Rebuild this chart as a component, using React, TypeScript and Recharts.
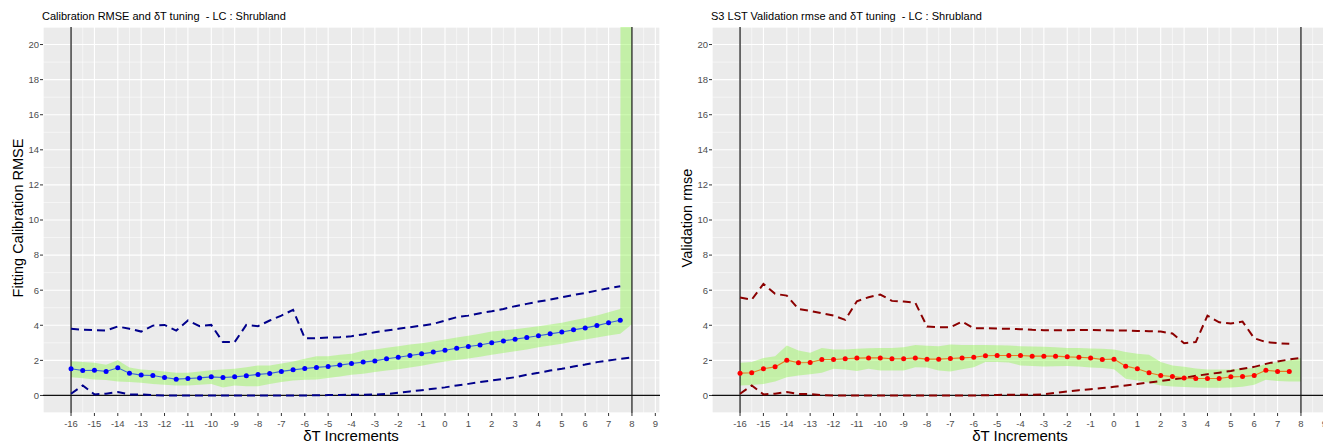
import { ComposedChart, Line, Area, XAxis, YAxis, CartesianGrid, ReferenceLine } from "recharts";

// dT increments (x positions of every sample)
const deltaT = [
  -16, -15.5, -15, -14.5, -14, -13.5, -13, -12.5, -12, -11.5, -11, -10.5, -10, -9.5, -9, -8.5,
  -8, -7.5, -7, -6.5, -6, -5.5, -5, -4.5, -4, -3.5, -3, -2.5, -2, -1.5, -1, -0.5,
  0, 0.5, 1, 1.5, 2, 2.5, 3, 3.5, 4, 4.5, 5, 5.5, 6, 6.5, 7, 7.5, 8,
];

const xTicks = [-16, -15, -14, -13, -12, -11, -10, -9, -8, -7, -6, -5, -4, -3, -2, -1, 0, 1, 2, 3, 4, 5, 6, 7, 8, 9];
const xMinorTicks = [
  -16.5, -15.5, -14.5, -13.5, -12.5, -11.5, -10.5, -9.5, -8.5, -7.5, -6.5, -5.5, -4.5, -3.5, -2.5, -1.5,
  -0.5, 0.5, 1.5, 2.5, 3.5, 4.5, 5.5, 6.5, 7.5, 8.5,
];
const yTicks = [0, 2, 4, 6, 8, 10, 12, 14, 16, 18, 20];
const yMinorTicks = [1, 3, 5, 7, 9, 11, 13, 15, 17, 19];

// calibration panel
const calMean = [
  1.52, 1.42, 1.44, 1.37, 1.58, 1.27, 1.16, 1.14, 1.02, 0.93, 0.97, 1.0, 1.06, 1.02, 1.06, 1.12,
  1.2, 1.25, 1.37, 1.46, 1.54, 1.6, 1.65, 1.73, 1.82, 1.9, 1.97, 2.09, 2.18, 2.28, 2.37, 2.47,
  2.58, 2.69, 2.79, 2.88, 3.0, 3.11, 3.21, 3.3, 3.4, 3.51, 3.62, 3.74, 3.85, 3.98, 4.14, 4.29, null,
];
const calLow = [
  1.04, 0.98, 0.91, 0.88, 0.8, 0.76, 0.72, 0.66, 0.61, 0.57, 0.57, 0.61, 0.65, 0.46, 0.57, 0.53,
  0.53, 0.66, 0.76, 0.85, 0.89, 0.91, 0.99, 1.08, 1.18, 1.24, 1.33, 1.42, 1.5, 1.6, 1.7, 1.82,
  1.94, 2.02, 2.1, 2.2, 2.32, 2.42, 2.52, 2.62, 2.75, 2.85, 2.95, 3.07, 3.19, 3.3, 3.42, 3.51, 4.06,
];
const calHigh = [
  1.95, 1.9, 1.86, 1.75, 2.0, 1.6, 1.48, 1.43, 1.37, 1.29, 1.29, 1.37, 1.43, 1.48, 1.52, 1.61,
  1.71, 1.71, 1.82, 1.94, 2.09, 2.24, 2.24, 2.32, 2.37, 2.55, 2.62, 2.72, 2.8, 2.9, 2.98, 3.08,
  3.19, 3.3, 3.4, 3.52, 3.64, 3.7, 3.78, 3.86, 3.95, 4.05, 4.15, 4.28, 4.42, 4.56, 4.74, 4.93, 1000,
];
const calUpper = [
  3.8, 3.74, 3.72, 3.7, 3.93, 3.8, 3.64, 3.98, 4.02, 3.7, 4.27, 3.95, 4.02, 3.04, 3.04, 4.02,
  3.95, 4.27, 4.55, 4.88, 3.26, 3.26, 3.3, 3.32, 3.38, 3.48, 3.6, 3.7, 3.8, 3.89, 3.98, 4.08,
  4.27, 4.46, 4.55, 4.69, 4.8, 4.93, 5.09, 5.22, 5.35, 5.46, 5.6, 5.73, 5.84, 5.98, 6.11, 6.22, null,
];
const calLower = [
  0.1, 0.57, 0.06, 0.1, 0.19, 0.06, 0.06, 0.02, 0, 0, 0, 0, 0, 0, 0, 0,
  0, 0, 0, 0, 0, 0.01, 0.02, 0.03, 0.04, 0.04, 0.05, 0.08, 0.15, 0.23, 0.3, 0.38,
  0.46, 0.57, 0.66, 0.76, 0.85, 0.95, 1.04, 1.18, 1.29, 1.42, 1.52, 1.65, 1.76, 1.9, 1.99, 2.09, 2.16,
];

// validation panel
const valMean = [
  1.27, 1.29, 1.52, 1.63, 2.01, 1.86, 1.88, 2.05, 2.05, 2.09, 2.13, 2.14, 2.14, 2.09, 2.09, 2.14,
  2.07, 2.07, 2.11, 2.14, 2.18, 2.26, 2.28, 2.28, 2.28, 2.24, 2.24, 2.24, 2.2, 2.18, 2.14, 2.05,
  2.07, 1.67, 1.52, 1.29, 1.14, 1.08, 1.0, 0.97, 0.97, 0.97, 1.06, 1.08, 1.14, 1.44, 1.37, 1.37, null,
];
const valLow = [
  0.57, 0.6, 0.66, 0.8, 1.04, 1.14, 1.21, 1.29, 1.52, 1.48, 1.4, 1.52, 1.42, 1.42, 1.42, 1.61,
  1.6, 1.42, 1.37, 1.5, 1.61, 1.9, 1.9, 1.88, 1.71, 1.68, 1.65, 1.66, 1.68, 1.65, 1.6, 1.56,
  1.5, 0.95, 0.85, 0.72, 0.57, 0.51, 0.48, 0.46, 0.44, 0.44, 0.46, 0.5, 0.61, 0.89, 0.82, 0.8, 0.8,
];
const valHigh = [
  1.86, 1.9, 2.13, 2.24, 2.85, 2.56, 2.43, 2.71, 2.62, 2.62, 2.66, 2.69, 2.71, 2.71, 2.75, 2.88,
  2.84, 2.8, 2.9, 2.88, 2.88, 2.88, 2.86, 2.85, 2.81, 2.79, 2.77, 2.75, 2.71, 2.7, 2.68, 2.66,
  2.62, 2.47, 2.37, 2.32, 1.9, 1.71, 1.63, 1.54, 1.48, 1.48, 1.48, 1.54, 1.56, 1.8, 1.9, 2.0, 2.13,
];
const valUpper = [
  5.58, 5.46, 6.36, 5.79, 5.69, 4.93, 4.82, 4.69, 4.55, 4.31, 5.37, 5.6, 5.75, 5.39, 5.35, 5.28,
  3.93, 3.89, 3.89, 4.21, 3.83, 3.83, 3.81, 3.8, 3.78, 3.74, 3.72, 3.72, 3.72, 3.73, 3.74, 3.72,
  3.7, 3.7, 3.68, 3.66, 3.64, 3.53, 2.98, 3.04, 4.55, 4.17, 4.1, 4.21, 3.26, 3.04, 2.98, 2.94, null,
];
const valLower = [
  0.1, 0.57, 0.06, 0.1, 0.19, 0.08, 0.08, 0.02, 0, 0, 0, 0, 0, 0, 0, 0,
  0, 0, 0, 0, 0, 0.01, 0.03, 0.04, 0.04, 0.04, 0.06, 0.15, 0.23, 0.3, 0.36, 0.42,
  0.49, 0.57, 0.65, 0.74, 0.82, 0.91, 1.0, 1.12, 1.21, 1.3, 1.4, 1.52, 1.63, 1.8, 1.94, 2.05, 2.14,
];

const FONT = '"Liberation Sans", Arial, Helvetica, sans-serif';
const W = 671;
const H = 442;

interface PanelProps {
  left: number;
  title: string;
  yTitle: string;
  mean: (number | null)[];
  low: number[];
  high: number[];
  upper: (number | null)[];
  lower: number[];
  dashColor: string;
  lineColor: string;
  dotColor: string;
}

function Panel({ left, title, yTitle, mean, low, high, upper, lower, dashColor, lineColor, dotColor }: PanelProps) {
  const data = deltaT.map((x, i) => ({
    x,
    mean: mean[i],
    band: [low[i], high[i]],
    upper: upper[i],
    lower: lower[i],
  }));
  const tick = { fill: "#4D4D4D", fontSize: 9.5, fontFamily: FONT };

  return (
    <div style={{ position: "absolute", left, top: 0, width: W, height: H }}>
      <ComposedChart width={W} height={H} data={data} margin={{ top: 27, right: 11, bottom: 0, left: 0 }}>
        <XAxis xAxisId="minor" dataKey="x" type="number" domain={[-17.2, 9.2]} ticks={xMinorTicks} allowDataOverflow hide />
        <YAxis yAxisId="minor" type="number" domain={[-1, 21]} ticks={yMinorTicks} allowDataOverflow hide />
        <CartesianGrid xAxisId="minor" yAxisId="minor" fill="#EBEBEB" stroke="#FFFFFF" strokeWidth={0.55} />
        <XAxis
          dataKey="x"
          type="number"
          domain={[-17.2, 9.2]}
          ticks={xTicks}
          allowDataOverflow
          interval={0}
          height={29}
          axisLine={false}
          tickLine={{ stroke: "#333333" }}
          tickSize={3}
          tickMargin={4}
          tick={tick}
        />
        <YAxis
          type="number"
          domain={[-1, 21]}
          ticks={yTicks}
          allowDataOverflow
          interval={0}
          width={43}
          axisLine={false}
          tickLine={{ stroke: "#333333" }}
          tickSize={3}
          tickMargin={1}
          tick={tick}
        />
        <CartesianGrid stroke="#FFFFFF" strokeWidth={1.1} />
        <ReferenceLine x={-16} stroke="#111111" strokeWidth={1.2} />
        <ReferenceLine x={8} stroke="#111111" strokeWidth={1.2} />
        <ReferenceLine y={0} stroke="#111111" strokeWidth={1.2} />
        <Line dataKey="upper" type="linear" stroke={dashColor} strokeWidth={2} strokeDasharray="8 5" dot={false} isAnimationActive={false} />
        <Line dataKey="lower" type="linear" stroke={dashColor} strokeWidth={2} strokeDasharray="8 5" dot={false} isAnimationActive={false} />
        <Area dataKey="band" type="linear" fill="#8cf54a" fillOpacity={0.42} stroke="none" isAnimationActive={false} />
        <Line
          dataKey="mean"
          type="linear"
          stroke={lineColor}
          strokeWidth={1.1}
          dot={{ r: 2.5, fill: dotColor, stroke: dotColor, strokeWidth: 0 }}
          isAnimationActive={false}
        />
      </ComposedChart>
      <div style={{ position: "absolute", left: 42, top: 9, fontSize: 11, lineHeight: "14px", fontFamily: FONT, whiteSpace: "pre", color: "#000" }}>
        {title}
      </div>
      <div
        style={{
          position: "absolute",
          left: 18,
          top: 218,
          transform: "translate(-50%, -50%) rotate(-90deg)",
          fontSize: 14.5,
          fontFamily: FONT,
          whiteSpace: "nowrap",
          color: "#000",
        }}
      >
        {yTitle}
      </div>
      <div
        style={{
          position: "absolute",
          left: 351,
          top: 435,
          transform: "translate(-50%, -50%)",
          fontSize: 15,
          fontFamily: FONT,
          whiteSpace: "nowrap",
          color: "#000",
        }}
      >
        δT Increments
      </div>
    </div>
  );
}

export default function App() {
  return (
    <div style={{ position: "absolute", left: 0, top: 0, width: 1323, height: 442, overflow: "hidden", background: "#fff" }}>
      <Panel
        left={0}
        title="Calibration RMSE and δT tuning  - LC : Shrubland"
        yTitle="Fitting Calibration RMSE"
        mean={calMean}
        low={calLow}
        high={calHigh}
        upper={calUpper}
        lower={calLower}
        dashColor="#00008B"
        lineColor="#3c64d8"
        dotColor="#0000FF"
      />
      <Panel
        left={669}
        title="S3 LST Validation rmse and δT tuning  - LC : Shrubland"
        yTitle="Validation rmse"
        mean={valMean}
        low={valLow}
        high={valHigh}
        upper={valUpper}
        lower={valLower}
        dashColor="#8B0000"
        lineColor="#E67E22"
        dotColor="#FF0000"
      />
    </div>
  );
}
